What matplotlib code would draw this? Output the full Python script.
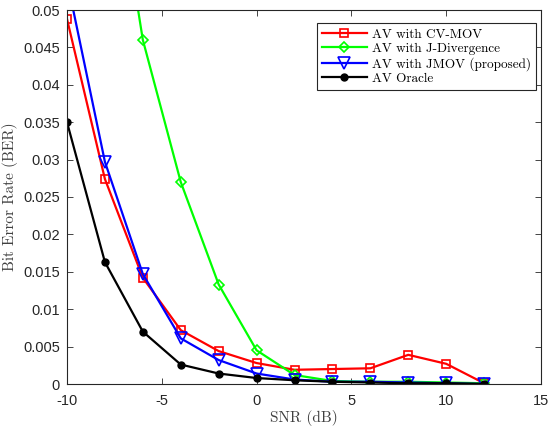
import matplotlib
matplotlib.use("Agg")
import matplotlib.pyplot as plt

snr = [-10, -8, -6, -4, -2, 0, 2, 4, 6, 8, 10, 12]

ber_cvmov = [0.0488, 0.0274, 0.0142, 0.0072, 0.0044, 0.0028, 0.0019, 0.0020, 0.0021, 0.0039, 0.0027, 0.0001]
ber_jdiv = [0.12, 0.078, 0.046, 0.027, 0.0133, 0.0045, 0.0012, 0.0004, 0.0003, 0.0003, 0.0002, 0.0001]
ber_jmov = [0.054, 0.0297, 0.0147, 0.0061, 0.0032, 0.0014, 0.0006, 0.0003, 0.0003, 0.0002, 0.0001, 0.0]
ber_oracle = [0.035, 0.0163, 0.0070, 0.0026, 0.0014, 0.0008, 0.0005, 0.0003, 0.0002, 0.0001, 0.0001, 0.0]

labels = ["AV with CV-MOV", "AV with J-Divergence", "AV with JMOV (proposed)", "AV Oracle"]
xticks = [-10, -5, 0, 5, 10, 15]
yticks = [0, 0.005, 0.01, 0.015, 0.02, 0.025, 0.03, 0.035, 0.04, 0.045, 0.05]

plt.rcParams["font.family"] = ["Liberation Sans", "DejaVu Sans"]

fig = plt.figure(figsize=(5.49, 4.26), dpi=100)
ax = fig.add_axes([67 / 549, 1 - 384 / 426, (541 - 67) / 549, (384 - 10) / 426])

ax.plot(snr, ber_cvmov, color="#ff0000", lw=1.6, marker="s", ms=5.5, mfc="none", mew=1.2, label=labels[0])
ax.plot(snr, ber_jdiv, color="#00ff00", lw=1.6, marker="D", ms=5.5, mfc="none", mew=1.2, label=labels[1])
ax.plot(snr, ber_jmov, color="#0000ff", lw=1.6, marker="v", ms=8, mfc="none", mew=1.2, label=labels[2])
ax.plot(snr, ber_oracle, color="#000000", lw=1.6, marker="o", ms=5, mfc="#000000", label=labels[3])

ax.set_xlim(-10, 15)
ax.set_ylim(0, 0.05)
ax.set_xticks(xticks)
ax.set_yticks(yticks)
ax.set_yticklabels(["0"] + [f"{v:g}" for v in yticks[1:]])
ax.set_xticklabels([str(v) for v in xticks])
ax.tick_params(direction="in", top=True, right=True, labelsize=10.5, length=4, width=0.6, colors="#262626")
ax.tick_params(axis="x", pad=7)
ax.tick_params(axis="y", pad=5)
for s in ax.spines.values():
    s.set_linewidth(0.8)
    s.set_color("#262626")

ax.set_xlabel("SNR (dB)", family="cmr10", fontsize=11, color="#404040", labelpad=2)
ax.set_ylabel("Bit Error Rate (BER)", family="cmr10", fontsize=11, color="#404040")

leg = ax.legend(loc="upper right", bbox_to_anchor=(0.99, 0.965), borderaxespad=0,
                prop={"family": "cmr10", "size": 9.5}, fancybox=False,
                edgecolor="#262626", framealpha=1, handlelength=3.4,
                labelspacing=0.15, handletextpad=0.4)
leg.get_frame().set_linewidth(0.8)

fig.savefig("out.png", dpi=100)
